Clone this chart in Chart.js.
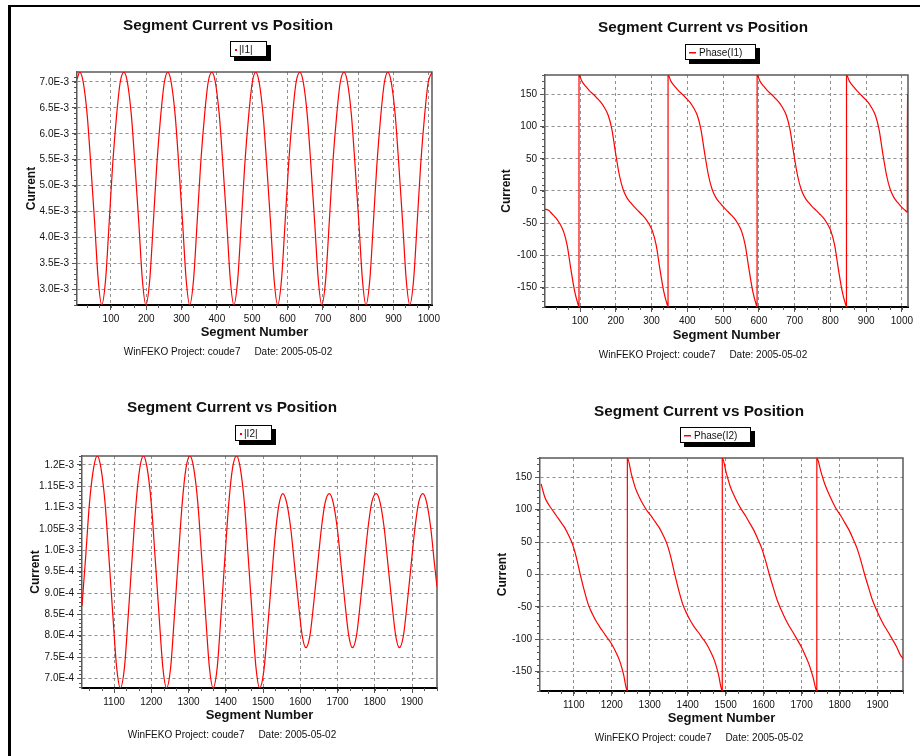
<!DOCTYPE html>
<html>
<head>
<meta charset="utf-8">
<title>Segment Current vs Position</title>
<script src="https://cdn.jsdelivr.net/npm/chart.js@4.4.0/dist/chart.umd.min.js"></script>
<style>
  html, body { margin: 0; padding: 0; background: #fff; }
  body { width: 920px; height: 756px; position: relative; overflow: hidden; }
  .frame { position: absolute; left: 8px; top: 5px; width: 930px; height: 770px; border-left: 3px solid #000; border-top: 2px solid #000; }
  .panel { position: absolute; }
  .panel canvas { display: block; }
</style>
</head>
<body>
<div class="frame"></div>
<div class="panel" style="left:11px;top:7px;width:449px;height:366px"><canvas id="chartI1"></canvas></div>
<div class="panel" style="left:460px;top:7px;width:460px;height:366px"><canvas id="chartPhase1"></canvas></div>
<div class="panel" style="left:11px;top:380px;width:449px;height:376px"><canvas id="chartI2"></canvas></div>
<div class="panel" style="left:460px;top:380px;width:460px;height:376px"><canvas id="chartPhase2"></canvas></div>
<script>
// ---- data ----
var footerText = 'WinFEKO Project: coude7     Date: 2005-05-02';

// segment ticks
var segTicksA = [100, 200, 300, 400, 500, 600, 700, 800, 900, 1000];
var segTicksB = [1100, 1200, 1300, 1400, 1500, 1600, 1700, 1800, 1900];

// value ticks
var i1Ticks = [3.0e-3, 3.5e-3, 4.0e-3, 4.5e-3, 5.0e-3, 5.5e-3, 6.0e-3, 6.5e-3, 7.0e-3];
var i1TickLabels = ['3.0E-3', '3.5E-3', '4.0E-3', '4.5E-3', '5.0E-3', '5.5E-3', '6.0E-3', '6.5E-3', '7.0E-3'];
var i2Ticks = [7.0e-4, 7.5e-4, 8.0e-4, 8.5e-4, 9.0e-4, 9.5e-4, 1.0e-3, 1.05e-3, 1.1e-3, 1.15e-3, 1.2e-3];
var i2TickLabels = ['7.0E-4', '7.5E-4', '8.0E-4', '8.5E-4', '9.0E-4', '9.5E-4', '1.0E-3', '1.05E-3', '1.1E-3', '1.15E-3', '1.2E-3'];
var phaseTicks = [-150, -100, -50, 0, 50, 100, 150];
var phaseTickLabels = ['-150', '-100', '-50', '0', '50', '100', '150'];

// |I1| vs segment
var segI1 = [4,
  12, 22, 33, 43, 54, 64, 74, 85, 95, 105, 116, 126,
  137, 147, 158, 168, 179, 189, 199, 210, 220, 230, 241, 251,
  261, 271, 282, 292, 303, 313, 323, 334, 344, 354, 365, 375,
  386, 396, 407, 417, 428, 438, 448, 459, 469, 479, 490, 500,
  510, 520, 531, 541, 552, 562, 572, 583, 593, 603, 614, 624,
  635, 645, 656, 666, 677, 687, 697, 708, 718, 728, 739, 749,
  760, 770, 781, 791, 802, 812, 822, 833, 843, 853, 864, 874,
  884, 894, 905, 915, 926, 936, 946, 957, 967, 977, 988, 998,
  1009];
var magI1 = [7.05e-3,
  7.19e-3, 6.98e-3, 6.35e-3, 5.41e-3, 4.28e-3, 3.19e-3, 2.70e-3, 3.19e-3, 4.28e-3, 5.41e-3, 6.35e-3, 6.98e-3,
  7.19e-3, 6.98e-3, 6.35e-3, 5.41e-3, 4.28e-3, 3.19e-3, 2.70e-3, 3.19e-3, 4.28e-3, 5.41e-3, 6.35e-3, 6.98e-3,
  7.19e-3, 6.98e-3, 6.35e-3, 5.41e-3, 4.28e-3, 3.19e-3, 2.70e-3, 3.19e-3, 4.28e-3, 5.41e-3, 6.35e-3, 6.98e-3,
  7.19e-3, 6.98e-3, 6.35e-3, 5.41e-3, 4.28e-3, 3.19e-3, 2.70e-3, 3.19e-3, 4.28e-3, 5.41e-3, 6.35e-3, 6.98e-3,
  7.19e-3, 6.98e-3, 6.35e-3, 5.41e-3, 4.28e-3, 3.19e-3, 2.70e-3, 3.19e-3, 4.28e-3, 5.41e-3, 6.35e-3, 6.98e-3,
  7.19e-3, 6.98e-3, 6.35e-3, 5.41e-3, 4.28e-3, 3.19e-3, 2.70e-3, 3.19e-3, 4.28e-3, 5.41e-3, 6.35e-3, 6.98e-3,
  7.19e-3, 6.98e-3, 6.35e-3, 5.41e-3, 4.28e-3, 3.19e-3, 2.70e-3, 3.19e-3, 4.28e-3, 5.41e-3, 6.35e-3, 6.98e-3,
  7.19e-3, 6.98e-3, 6.35e-3, 5.41e-3, 4.28e-3, 3.19e-3, 2.70e-3, 3.19e-3, 4.28e-3, 5.41e-3, 6.35e-3, 6.98e-3,
  7.19e-3];

// Phase(I1) vs segment (vertical wraps at -180/180)
var segPhase1 = [2,
  12, 22, 33, 43, 54, 64, 74, 85, 95, 97, 97.1, 105, 116, 126,
  137, 147, 158, 168, 179, 189, 199, 210, 220, 230, 241, 251,
  261, 271, 282, 292, 303, 313, 323, 334, 344, 346, 346.1, 354, 365, 375,
  386, 396, 407, 417, 428, 438, 448, 459, 469, 479, 490, 500,
  510, 520, 531, 541, 552, 562, 572, 583, 593, 595, 595.1, 603, 614, 624,
  635, 645, 656, 666, 677, 687, 697, 708, 718, 728, 739, 749,
  760, 770, 781, 791, 802, 812, 822, 833, 843, 845, 845.1, 853, 864, 874,
  884, 894, 905, 915, 926, 936, 946, 957, 967, 977, 988, 998,
  1009, 1015, 1015.1, 1016];
var phase1 = [-28,
  -30, -35.7, -42.2, -50.5, -63.0, -84.4, -120, -155.6, -177.0, -180, 180, 170.5, 162.2, 155.7,
  150, 144.3, 137.8, 129.5, 117.0, 95.6, 60, 24.4, 3.0, -9.5, -17.8, -24.3,
  -30, -35.7, -42.2, -50.5, -63.0, -84.4, -120, -155.6, -177.0, -180, 180, 170.5, 162.2, 155.7,
  150, 144.3, 137.8, 129.5, 117.0, 95.6, 60, 24.4, 3.0, -9.5, -17.8, -24.3,
  -30, -35.7, -42.2, -50.5, -63.0, -84.4, -120, -155.6, -177.0, -180, 180, 170.5, 162.2, 155.7,
  150, 144.3, 137.8, 129.5, 117.0, 95.6, 60, 24.4, 3.0, -9.5, -17.8, -24.3,
  -30, -35.7, -42.2, -50.5, -63.0, -84.4, -120, -155.6, -177.0, -180, 180, 170.5, 162.2, 155.7,
  150, 144.3, 137.8, 129.5, 117.0, 95.6, 60, 24.4, 3.0, -9.5, -17.8, -24.3,
  -30, -33, 60, 150];

// |I2| vs segment
var segI2 = [1014, 1024, 1034, 1045,
  1055, 1065, 1076, 1086, 1097, 1107, 1117, 1128, 1138, 1149, 1159, 1169,
  1179, 1189, 1200, 1210, 1221, 1231, 1241, 1252, 1262, 1273, 1283, 1293,
  1304, 1314, 1325, 1335, 1346, 1356, 1366, 1377, 1387, 1398, 1408, 1418,
  1429, 1439, 1450, 1460, 1471, 1481, 1491, 1502, 1512, 1523, 1533, 1543,
  1553, 1563, 1574, 1584, 1595, 1605, 1615, 1626, 1636, 1647, 1657, 1667,
  1678, 1688, 1699, 1709, 1720, 1730, 1740, 1751, 1761, 1772, 1782, 1792,
  1804, 1814, 1825, 1835, 1846, 1856, 1866, 1877, 1887, 1898, 1908, 1918,
  1929, 1939, 1950, 1960, 1967];
var magI2 = [0.870e-3, 0.987e-3, 1.110e-3, 1.192e-3,
  1.221e-3, 1.192e-3, 1.110e-3, 0.987e-3, 0.846e-3, 0.726e-3, 0.678e-3, 0.726e-3, 0.846e-3, 0.987e-3, 1.110e-3, 1.192e-3,
  1.221e-3, 1.192e-3, 1.110e-3, 0.987e-3, 0.846e-3, 0.726e-3, 0.678e-3, 0.726e-3, 0.846e-3, 0.987e-3, 1.110e-3, 1.192e-3,
  1.221e-3, 1.192e-3, 1.110e-3, 0.987e-3, 0.846e-3, 0.726e-3, 0.678e-3, 0.726e-3, 0.846e-3, 0.987e-3, 1.110e-3, 1.192e-3,
  1.221e-3, 1.192e-3, 1.110e-3, 0.987e-3, 0.846e-3, 0.726e-3, 0.678e-3, 0.717e-3, 0.815e-3, 0.933e-3, 1.038e-3, 1.108e-3,
  1.133e-3, 1.113e-3, 1.054e-3, 0.970e-3, 0.876e-3, 0.801e-3, 0.772e-3, 0.801e-3, 0.876e-3, 0.970e-3, 1.054e-3, 1.113e-3,
  1.133e-3, 1.113e-3, 1.054e-3, 0.970e-3, 0.876e-3, 0.801e-3, 0.772e-3, 0.801e-3, 0.876e-3, 0.970e-3, 1.054e-3, 1.113e-3,
  1.133e-3, 1.113e-3, 1.054e-3, 0.970e-3, 0.876e-3, 0.801e-3, 0.772e-3, 0.801e-3, 0.876e-3, 0.970e-3, 1.054e-3, 1.113e-3,
  1.133e-3, 1.113e-3, 1.054e-3, 0.970e-3, 0.915e-3];

// Phase(I2) vs segment
var segPhase2 = [1014, 1024, 1034, 1045,
  1055, 1065, 1076, 1086, 1097, 1107, 1117, 1128, 1138, 1149, 1159, 1169,
  1179, 1189, 1200, 1210, 1221, 1231, 1241, 1241.1, 1252, 1262, 1273, 1283, 1293,
  1304, 1314, 1325, 1335, 1346, 1356, 1366, 1377, 1387, 1398, 1408, 1418,
  1429, 1439, 1450, 1460, 1471, 1481, 1491, 1491.1, 1502, 1512, 1523, 1533, 1543,
  1553, 1563, 1574, 1584, 1595, 1605, 1615, 1626, 1636, 1647, 1657, 1667,
  1678, 1688, 1699, 1709, 1720, 1730, 1740, 1740.1, 1751, 1761, 1772, 1782, 1792,
  1804, 1814, 1825, 1835, 1846, 1856, 1866, 1877, 1887, 1898, 1908, 1918,
  1929, 1939, 1950, 1960, 1967];
var phase2 = [140, 119.0, 107.8, 98.5,
  90, 81.6, 72.3, 61.0, 46.2, 25.8, 0, -25.8, -46.2, -61.0, -72.3, -81.6,
  -90, -98.5, -107.8, -119.0, -133.8, -154.2, -180, 180, 154.2, 133.8, 119.0, 107.8, 98.5,
  90, 81.6, 72.3, 61.0, 46.2, 25.8, 0, -25.8, -46.2, -61.0, -72.3, -81.6,
  -90, -98.5, -107.8, -119.0, -133.8, -154.2, -180, 180, 155.8, 136.0, 120.9, 109.0, 99.1,
  90, 79.7, 68.5, 55.7, 40.3, 21.5, 0, -21.5, -40.3, -55.7, -68.5, -79.7,
  -90, -100.3, -111.5, -124.3, -139.7, -158.5, -180, 180, 158.5, 139.7, 124.3, 111.5, 100.3,
  90, 79.7, 68.5, 55.7, 40.3, 21.5, 0, -21.5, -40.3, -55.7, -68.5, -79.7,
  -90, -100.3, -111.5, -124.3, -130];

Chart.defaults.font.family = '"Liberation Sans", Arial, Helvetica, sans-serif';
Chart.defaults.color = '#111';

// framed legend box with drop shadow, centred over the plot.
var boxLegend = {
  id: 'boxLegend',
  afterDraw: function (chart, args, opts) {
    var ds = chart.data.datasets[0];
    var area = chart.chartArea;
    var ctx = chart.ctx;
    ctx.save();
    ctx.font = '10px "Liberation Sans", Arial, sans-serif';
    var textLeft = opts.mark === 'line' ? 14 : 9;
    var w = Math.round(textLeft + ctx.measureText(ds.label).width + 14);
    var h = 16;
    var left = Math.round((area.left + area.right) / 2 - 6 - w / 2);
    var top = Math.round(area.top - 31);
    ctx.fillStyle = '#000';
    ctx.fillRect(left + 4, top + 4, w, h);
    ctx.fillStyle = '#fff';
    ctx.fillRect(left, top, w, h);
    ctx.strokeStyle = '#000';
    ctx.lineWidth = 1;
    ctx.strokeRect(left + 0.5, top + 0.5, w - 1, h - 1);
    ctx.fillStyle = ds.borderColor;
    if (opts.mark === 'line') {
      ctx.fillRect(left + 4, top + 8, 7, 1.5);
    } else {
      ctx.fillRect(left + 5, top + 8, 2, 2);
    }
    ctx.fillStyle = '#111';
    ctx.textBaseline = 'middle';
    ctx.fillText(ds.label, left + textLeft, top + h / 2 + 1);
    ctx.restore();
  }
};

// grey plot frame and small minor tick marks.
var plotDecor = {
  id: 'plotDecor',
  beforeDatasetsDraw: function (chart, args, opts) {
    var ctx = chart.ctx;
    var area = chart.chartArea;
    ctx.save();
    ctx.strokeStyle = '#555';
    ctx.lineWidth = 1;
    ['x', 'y'].forEach(function (id) {
      var scale = chart.scales[id];
      var ticks = scale.ticks;
      var step = (ticks[1].value - ticks[0].value) / opts[id];
      var v = ticks[0].value - Math.floor((ticks[0].value - scale.min) / step) * step;
      ctx.beginPath();
      for (; v <= scale.max + step * 0.01; v += step) {
        var p = Math.round(scale.getPixelForValue(v)) + 0.5;
        if (id === 'x') {
          ctx.moveTo(p, area.bottom);
          ctx.lineTo(p, area.bottom + 3);
        } else {
          ctx.moveTo(area.left, p);
          ctx.lineTo(area.left - 3, p);
        }
      }
      ctx.stroke();
    });
    ctx.strokeStyle = '#5a5a5a';
    ctx.lineWidth = 1.5;
    ctx.beginPath();
    ctx.moveTo(area.left, area.top);
    ctx.lineTo(area.right, area.top);
    ctx.lineTo(area.right, area.bottom);
    ctx.stroke();
    ctx.restore();
  }
};

// create one panel chart.
function createPanelChart(id, setup) {
  return new Chart(document.getElementById(id), {
    type: 'line',
    data: {
      datasets: [{
        label: setup.label,
        data: setup.xs.map(function (x, i) { return { x: x, y: setup.ys[i] }; }),
        borderColor: '#ff0000',
        backgroundColor: '#ff0000',
        borderWidth: 1.2,
        pointRadius: 0,
        cubicInterpolationMode: 'monotone',
        fill: false
      }]
    },
    options: {
      responsive: true,
      maintainAspectRatio: false,
      animation: false,
      events: [],
      layout: { padding: { left: setup.padLeft, right: setup.padRight, top: 0, bottom: 0 } },
      plugins: {
        legend: { display: false },
        tooltip: { enabled: false },
        title: {
          display: true,
          text: 'Segment Current vs Position',
          color: '#111',
          font: { size: 15.3, weight: 'bold' },
          padding: { top: setup.titleTop, bottom: setup.titleBottom }
        },
        subtitle: {
          display: true,
          position: 'bottom',
          text: footerText,
          color: '#111',
          font: { size: 10 },
          padding: { top: 5, bottom: setup.footBottom }
        },
        boxLegend: { mark: setup.mark },
        plotDecor: { x: 3, y: 5 }
      },
      scales: {
        x: {
          type: 'linear',
          min: setup.xMin,
          max: setup.xMax,
          afterBuildTicks: function (scale) {
            scale.ticks = setup.xTicks.map(function (v) { return { value: v }; });
          },
          afterFit: function (scale) { scale.height = setup.xAxisH; },
          ticks: {
            autoSkip: false, maxRotation: 0, padding: 3, color: '#111',
            font: { size: 10 },
            callback: function (v) { return String(v); }
          },
          grid: { color: '#8f8f8f', lineWidth: 1, tickLength: 5, tickColor: '#555' },
          border: { display: true, color: '#000', width: 2, dash: [3, 3] },
          title: {
            display: true, text: 'Segment Number', color: '#111',
            font: { size: 13, weight: 'bold' },
            padding: { top: 0, bottom: 1 }
          }
        },
        y: {
          min: setup.yMin,
          max: setup.yMax,
          afterBuildTicks: function (scale) {
            scale.ticks = setup.yTicks.map(function (v) { return { value: v }; });
          },
          afterFit: function (scale) { scale.width = setup.yAxisW; },
          ticks: {
            autoSkip: false, padding: 3, color: '#111',
            font: { size: 10 },
            callback: function (v, i) { return setup.yTickLabels[i]; }
          },
          grid: { color: '#8f8f8f', lineWidth: 1, tickLength: 5, tickColor: '#555' },
          border: { display: true, color: '#5a5a5a', width: 1.5, dash: [3, 3] },
          title: {
            display: true, text: 'Current', color: '#111',
            font: { size: 12, weight: 'bold' },
            padding: { top: setup.yTitlePad, bottom: 0 }
          }
        }
      }
    },
    plugins: [boxLegend, plotDecor]
  });
}

createPanelChart('chartI1', {
  label: '|I1|', mark: 'dot', xs: segI1, ys: magI1,
  xMin: 4, xMax: 1009, xTicks: segTicksA,
  yMin: 2.697e-3, yMax: 7.193e-3, yTicks: i1Ticks, yTickLabels: i1TickLabels,
  padLeft: 13, padRight: 28, yAxisW: 53, yTitlePad: 0,
  titleTop: 9.8, titleBottom: 36.8, xAxisH: 36, footBottom: 15
});

createPanelChart('chartPhase1', {
  label: 'Phase(I1)', mark: 'line', xs: segPhase1, ys: phase1,
  xMin: 2, xMax: 1017, xTicks: segTicksA,
  yMin: -180, yMax: 180, yTicks: phaseTicks, yTickLabels: phaseTickLabels,
  padLeft: 38, padRight: 12, yAxisW: 47, yTitlePad: 1.5,
  titleTop: 11.8, titleBottom: 37.8, xAxisH: 37, footBottom: 12
});

createPanelChart('chartI2', {
  label: '|I2|', mark: 'dot', xs: segI2, ys: magI2,
  xMin: 1014, xMax: 1967, xTicks: segTicksB,
  yMin: 0.6776e-3, yMax: 1.221e-3, yTicks: i2Ticks, yTickLabels: i2TickLabels,
  padLeft: 16, padRight: 23, yAxisW: 55, yTitlePad: 1,
  titleTop: 18.8, titleBottom: 38.8, xAxisH: 36, footBottom: 15
});

createPanelChart('chartPhase2', {
  label: 'Phase(I2)', mark: 'line', xs: segPhase2, ys: phase2,
  xMin: 1011, xMax: 1967, xTicks: segTicksB,
  yMin: -180, yMax: 180, yTicks: phaseTicks, yTickLabels: phaseTickLabels,
  padLeft: 35, padRight: 17, yAxisW: 45, yTitlePad: 0,
  titleTop: 22.8, titleBottom: 36.8, xAxisH: 36, footBottom: 12
});
</script>
</body>
</html>
